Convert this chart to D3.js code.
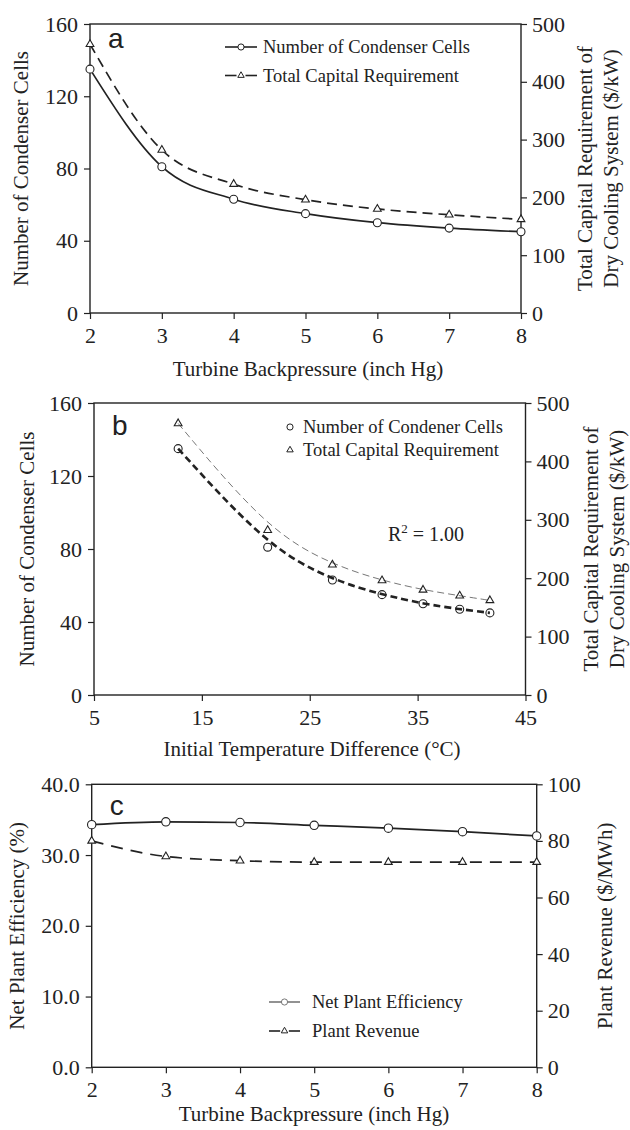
<!DOCTYPE html>
<html>
<head>
<meta charset="utf-8">
<script src="https://cdn.jsdelivr.net/npm/d3@7"></script>
<style>
body { margin: 0; background: #fff; }
svg text { font-family: "Liberation Serif", "Times New Roman", serif; fill: #222; }
svg text.panel-label { font-family: "Liberation Sans", Arial, sans-serif; }
</style>
</head>
<body>
<div id="chart"></div>
<script>
// values
const backpressure = [2, 3, 4, 5, 6, 7, 8];
const initialTempDiff = [12.8, 21.1, 27.1, 31.7, 35.5, 38.9, 41.7];
const condenserCells = [135, 81, 63, 55, 50, 47, 45];
const capitalRequirement = [465, 282, 223, 196, 180, 170, 162];
const netEfficiency = [34.3, 34.7, 34.6, 34.2, 33.8, 33.3, 32.7];
const plantRevenue = [80, 74.5, 73, 72.5, 72.5, 72.5, 72.5];

const backpressureTicks = [2, 3, 4, 5, 6, 7, 8];
const itdTicks = [5, 15, 25, 35, 45];
const cellsTicks = [0, 40, 80, 120, 160];
const capitalTicks = [0, 100, 200, 300, 400, 500];
const efficiencyTicks = [0, 10, 20, 30, 40];
const revenueTicks = [0, 20, 40, 60, 80, 100];

const INK = "#222";

class Panel {
    constructor(svg, box, xDomain, leftDomain, rightDomain) {
	this.box = box;
	this.g = svg.append("g").attr("class", "panel");
	this.x = d3.scaleLinear().domain(xDomain).range([box.left, box.right]);
	this.yLeft = d3.scaleLinear().domain(leftDomain).range([box.bottom, box.top]);
	this.yRight = d3.scaleLinear().domain(rightDomain).range([box.bottom, box.top]);
    }

    axes(xTicks, leftTicks, rightTicks, leftFormat) {
	let b = this.box;
	let style = g => {
	    g.select(".domain").remove();
	    g.selectAll("line").attr("stroke", INK).attr("stroke-width", 1.2);
	    g.selectAll("text").attr("font-size", 22).attr("fill", INK)
		.attr("font-family", "'Liberation Serif', 'Times New Roman', serif");
	};
	this.g.append("g")
	    .attr("transform", `translate(0, ${b.bottom})`)
	    .call(d3.axisBottom(this.x).tickValues(xTicks).tickSize(6).tickPadding(8).tickFormat(d3.format("d")))
	    .call(style);
	this.g.append("g")
	    .attr("transform", `translate(${b.left}, 0)`)
	    .call(d3.axisLeft(this.yLeft).tickValues(leftTicks).tickSize(6).tickPadding(6).tickFormat(leftFormat))
	    .call(style);
	this.g.append("g")
	    .attr("transform", `translate(${b.right}, 0)`)
	    .call(d3.axisRight(this.yRight).tickValues(rightTicks).tickSize(6).tickPadding(5).tickFormat(d3.format("d")))
	    .call(style);
	this.g.append("rect")
	    .attr("x", b.left).attr("y", b.top)
	    .attr("width", b.right - b.left).attr("height", b.bottom - b.top)
	    .attr("fill", "none").attr("stroke", INK).attr("stroke-width", 1.4);
    }

    titles(label, xTitle, leftTitle, rightLines, pos) {
	let b = this.box;
	let midY = (b.top + b.bottom) / 2;
	this.g.append("text")
	    .attr("class", "panel-label")
	    .attr("x", b.left + 18).attr("y", pos.labelY)
	    .attr("font-size", 28)
	    .text(label);
	this.g.append("text")
	    .attr("x", pos.xTitleX).attr("y", pos.xTitleY)
	    .attr("text-anchor", "middle").attr("font-size", 21)
	    .text(xTitle);
	this.g.append("text")
	    .attr("transform", `translate(${pos.leftX}, ${midY}) rotate(-90)`)
	    .attr("text-anchor", "middle").attr("dy", "0.35em").attr("font-size", 21)
	    .text(leftTitle);
	rightLines.forEach((t, i) => {
	    this.g.append("text")
		.attr("transform", `translate(${pos.rightX[i]}, ${midY}) rotate(-90)`)
		.attr("text-anchor", "middle").attr("dy", "0.35em").attr("font-size", 21)
		.text(t);
	});
    }

    line(xs, ys, yScale, style, curve) {
	let pts = xs.map((x, i) => [this.x(x), yScale(ys[i])]);
	this.g.append("path")
	    .attr("d", d3.line().curve(curve)(pts))
	    .attr("fill", "none")
	    .attr("stroke", style.color || INK)
	    .attr("stroke-width", style.width)
	    .attr("stroke-dasharray", style.dash || null);
    }

    markers(xs, ys, yScale, shape, size) {
	let sel = this.g.append("g").selectAll("path")
	    .data(xs.map((x, i) => [this.x(x), yScale(ys[i])]))
	    .join("path")
	    .attr("transform", d => `translate(${d[0]}, ${d[1]})`)
	    .attr("d", d3.symbol(shape, size))
	    .attr("fill", "#fff")
	    .attr("stroke", INK)
	    .attr("stroke-width", 1.1);
	return sel;
    }

    legend(items, x, y, rowGap, symbolWidth, textGap) {
	items.forEach((it, i) => {
	    let cy = y + i * rowGap;
	    let g = this.g.append("g");
	    if (symbolWidth > 0) {
		if (it.split) {
		    g.append("line").attr("x1", x).attr("x2", x + symbolWidth * 0.36)
			.attr("y1", cy).attr("y2", cy).attr("stroke", it.color || INK).attr("stroke-width", 1.6);
		    g.append("line").attr("x1", x + symbolWidth * 0.64).attr("x2", x + symbolWidth)
			.attr("y1", cy).attr("y2", cy).attr("stroke", it.color || INK).attr("stroke-width", 1.6);
		} else {
		    g.append("line").attr("x1", x).attr("x2", x + symbolWidth)
			.attr("y1", cy).attr("y2", cy).attr("stroke", it.color || INK).attr("stroke-width", 1.6);
		}
	    }
	    g.append("path")
		.attr("transform", `translate(${x + symbolWidth / 2}, ${cy})`)
		.attr("d", d3.symbol(it.shape, it.size))
		.attr("fill", "#fff").attr("stroke", it.color || INK).attr("stroke-width", 1);
	    g.append("text")
		.attr("x", x + symbolWidth + textGap).attr("y", cy)
		.attr("dy", "0.33em").attr("font-size", 18.5)
		.text(it.name);
	});
    }
}

const svg = d3.select("#chart").append("svg")
    .attr("width", 630).attr("height", 1130)
    .style("background", "#fff");

// (a) versus turbine backpressure
const pa = new Panel(svg, {left: 90, right: 521, top: 24, bottom: 313}, [2, 8], [0, 160], [0, 500]);
pa.axes(backpressureTicks, cellsTicks, capitalTicks, d3.format("d"));
pa.line(backpressure, condenserCells, pa.yLeft, {width: 1.7}, d3.curveMonotoneX);
pa.line(backpressure, capitalRequirement, pa.yRight, {width: 1.7, dash: "10,6"}, d3.curveMonotoneX);
pa.markers(backpressure, condenserCells, pa.yLeft, d3.symbolCircle, 50);
pa.markers(backpressure, capitalRequirement, pa.yRight, d3.symbolTriangle, 26);
pa.legend([
    {name: "Number of Condenser Cells", shape: d3.symbolCircle, size: 30},
    {name: "Total Capital Requirement", shape: d3.symbolTriangle, size: 18, split: true}
], 225, 47, 28.5, 32, 6);
pa.titles("a", "Turbine Backpressure (inch Hg)", "Number of Condenser Cells",
	  ["Total Capital Requirement of", "Dry Cooling System ($/kW)"],
	  {labelY: 48, xTitleX: 308, xTitleY: 376, leftX: 21, rightX: [585, 611]});

// (b) versus initial temperature difference, with trend lines
const pb = new Panel(svg, {left: 94, right: 525.5, top: 403, bottom: 695}, [5, 45], [0, 160], [0, 500]);
pb.axes(itdTicks, cellsTicks, capitalTicks, d3.format("d"));
pb.line(initialTempDiff, capitalRequirement, pb.yRight, {width: 1, dash: "7,4", color: "#777"}, d3.curveBasis);
pb.line(initialTempDiff, condenserCells, pb.yLeft, {width: 2.6, dash: "7,4"}, d3.curveBasis);
pb.markers(initialTempDiff, condenserCells, pb.yLeft, d3.symbolCircle, 50).attr("fill", "none");
pb.markers(initialTempDiff, capitalRequirement, pb.yRight, d3.symbolTriangle, 26).attr("fill", "none");
pb.legend([
    {name: "Number of Condener Cells", shape: d3.symbolCircle, size: 30},
    {name: "Total Capital Requirement", shape: d3.symbolTriangle, size: 18}
], 290, 427, 23, 0, 13);
pb.titles("b", "Initial Temperature Difference (°C)", "Number of Condenser Cells",
	  ["Total Capital Requirement of", "Dry Cooling System ($/kW)"],
	  {labelY: 435, xTitleX: 312, xTitleY: 756, leftX: 27, rightX: [591, 617]});
let r2 = pb.g.append("text").attr("x", 388).attr("y", 541).attr("font-size", 20);
r2.append("tspan").text("R");
r2.append("tspan").attr("dy", -8).attr("font-size", 13).text("2");
r2.append("tspan").attr("dy", 8).text(" = 1.00");

// (c) efficiency and revenue
const pc = new Panel(svg, {left: 91.7, right: 536.7, top: 784.3, bottom: 1067.3}, [2, 8], [0, 40], [0, 100]);
pc.axes(backpressureTicks, efficiencyTicks, revenueTicks, d3.format(".1f"));
pc.line(backpressure, netEfficiency, pc.yLeft, {width: 1.7}, d3.curveMonotoneX);
pc.line(backpressure, plantRevenue, pc.yRight, {width: 1.7, dash: "12,8"}, d3.curveMonotoneX);
pc.markers(backpressure, netEfficiency, pc.yLeft, d3.symbolCircle, 55);
pc.markers(backpressure, plantRevenue, pc.yRight, d3.symbolTriangle, 26);
pc.legend([
    {name: "Net Plant Efficiency", shape: d3.symbolCircle, size: 30, color: "#777"},
    {name: "Plant Revenue", shape: d3.symbolTriangle, size: 18, split: true}
], 269, 1002, 29, 31, 12);
pc.titles("c", "Turbine Backpressure (inch Hg)", "Net Plant Efficiency (%)",
	  ["Plant Revenue ($/MWh)"],
	  {labelY: 815, xTitleX: 314, xTitleY: 1121, leftX: 17, rightX: [605]});
</script>
</body>
</html>
